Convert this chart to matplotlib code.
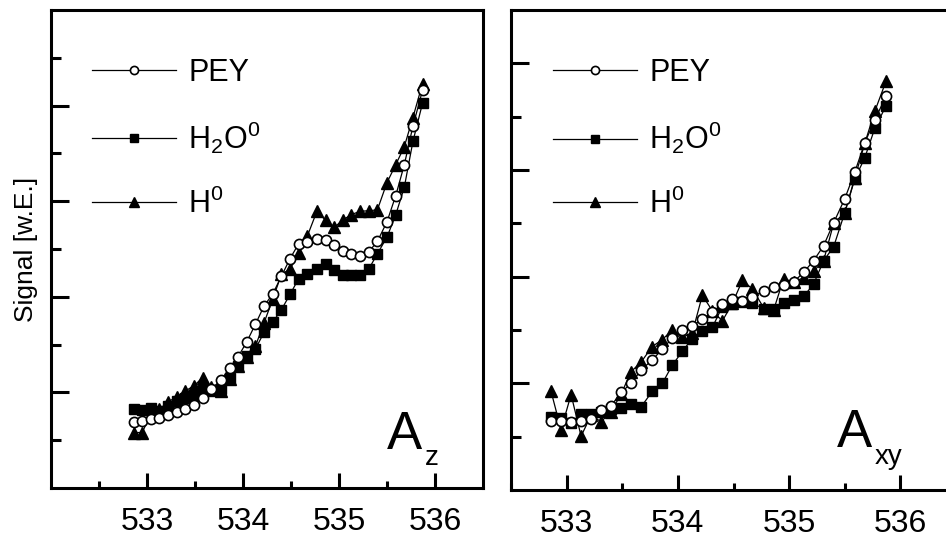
import matplotlib
matplotlib.use("Agg")
import matplotlib.pyplot as plt
from matplotlib.ticker import FixedLocator

plt.rcParams["font.family"] = ["Liberation Sans", "DejaVu Sans"]
plt.rcParams["mathtext.fontset"] = "custom"
plt.rcParams["mathtext.rm"] = "Liberation Sans"
plt.rcParams["mathtext.default"] = "regular"

# Photon energy grid (eV), shared by both panels
energy = [532.86, 532.95, 533.04, 533.13, 533.22, 533.31, 533.40, 533.49,
          533.58, 533.67, 533.77, 533.86, 533.95, 534.04, 534.13, 534.22,
          534.31, 534.40, 534.49, 534.58, 534.67, 534.77, 534.86, 534.95,
          535.04, 535.13, 535.22, 535.31, 535.40, 535.50, 535.59, 535.68,
          535.77, 535.87]

# A_z panel
pey_z = [0.39, 0.41, 0.45, 0.46, 0.53, 0.59, 0.66, 0.74, 0.88, 1.08, 1.25,
         1.52, 1.75, 2.06, 2.43, 2.81, 3.06, 3.43, 3.80, 4.11, 4.14, 4.21,
         4.18, 4.09, 3.96, 3.90, 3.85, 3.94, 4.16, 4.57, 5.11, 5.76, 6.57, 7.32]
h2o_z = [0.65, 0.63, 0.68, 0.61, 0.71, 0.82, 0.89, 0.95, 1.04, 1.02, 1.08,
         1.31, 1.56, 1.77, 1.91, 2.26, 2.47, 2.73, 3.05, 3.38, 3.48, 3.59,
         3.68, 3.57, 3.45, 3.45, 3.46, 3.58, 3.90, 4.25, 4.71, 5.29, 6.25, 7.05]
h0_z = [0.16, 0.16, 0.55, 0.65, 0.80, 0.91, 1.03, 1.14, 1.31, 1.11, 1.02,
        1.29, 1.55, 1.74, 1.97, 2.46, 2.95, 3.47, 3.58, 3.91, 4.27, 4.79,
        4.60, 4.45, 4.61, 4.72, 4.79, 4.80, 4.82, 5.39, 5.76, 6.14, 6.75, 7.46]

# A_xy panel
pey_xy = [0.29, 0.30, 0.27, 0.30, 0.34, 0.50, 0.58, 0.83, 1.00, 1.25, 1.44,
          1.64, 1.85, 2.00, 2.08, 2.20, 2.34, 2.48, 2.58, 2.54, 2.62, 2.73,
          2.80, 2.84, 2.90, 3.08, 3.30, 3.58, 4.01, 4.46, 4.96, 5.51, 5.94, 6.38]
h2o_xy = [0.36, 0.35, 0.25, 0.42, 0.42, 0.47, 0.51, 0.54, 0.61, 0.56, 0.85,
          1.00, 1.34, 1.60, 1.84, 1.98, 2.05, 2.44, 2.49, 2.53, 2.50, 2.40,
          2.40, 2.50, 2.56, 2.63, 2.86, 3.30, 3.56, 4.20, 4.83, 5.23, 5.78, 6.20]
h0_xy = [0.85, 0.13, 0.79, 0.01, 0.40, 0.28, 0.47, 0.80, 1.22, 1.40, 1.69,
         1.82, 2.00, 1.86, 1.95, 2.65, 2.36, 2.17, 2.50, 2.93, 2.77, 2.42,
         2.37, 2.96, 2.90, 2.98, 3.10, 3.30, 4.00, 4.20, 4.85, 5.50, 6.10, 6.66]

series_labels = ["PEY", r"H$_2$O$^0$", r"H$^0$"]
x_major = [533, 534, 535, 536]
x_minor = [532.5, 533.5, 534.5, 535.5]

fig = plt.figure(figsize=(9.46, 5.40), dpi=100)
ax_z = fig.add_axes([51 / 946, 52 / 540, 432 / 946, 478 / 540])
ax_xy = fig.add_axes([511 / 946, 50 / 540, 445 / 946, 480 / 540])

line_kw = dict(color="black", lw=0.9)


def draw_panel(ax, pey, h2o, h0, xlim, ylim, y_major, y_minor):
    l_h0, = ax.plot(energy, h0, marker="^", ms=8.3, mfc="black", mec="black",
                    label=series_labels[2], **line_kw)
    l_h2o, = ax.plot(energy, h2o, marker="s", ms=7, mfc="black", mec="black",
                     label=series_labels[1], **line_kw)
    l_pey, = ax.plot(energy, pey, marker="o", ms=7.3, mfc="white", mec="black",
                     mew=1.2, label=series_labels[0], **line_kw)
    ax.set_xlim(*xlim)
    ax.set_ylim(*ylim)
    ax.xaxis.set_major_locator(FixedLocator(x_major))
    ax.xaxis.set_minor_locator(FixedLocator(x_minor))
    ax.yaxis.set_major_locator(FixedLocator(y_major))
    ax.yaxis.set_minor_locator(FixedLocator(y_minor))
    ax.set_yticklabels([])
    for s in ax.spines.values():
        s.set_linewidth(2.2)
    ax.tick_params(axis="both", which="both", direction="in", width=2.2,
                   top=False, right=False)
    ax.tick_params(axis="x", which="major", length=10.5, labelsize=23, pad=14)
    ax.tick_params(axis="x", which="minor", length=5)
    ax.tick_params(axis="y", which="major", length=13)
    ax.tick_params(axis="y", which="minor", length=7)
    ax.legend(handles=[l_pey, l_h2o, l_h0], loc="upper left",
              bbox_to_anchor=(41 / 432, 0.90), frameon=False,
              fontsize=22, handlelength=2.75, handletextpad=0.4,
              labelspacing=1.05, borderpad=0, borderaxespad=0,
              markerscale=0.8)


draw_panel(ax_z, pey_z, h2o_z, h0_z, (532.0, 536.5), (-1, 9),
           [1, 3, 5, 7], [0, 2, 4, 6, 8])
draw_panel(ax_xy, pey_xy, h2o_xy, h0_xy, (532.5, 536.5), (-1, 8),
           [1, 3, 5, 7], [0, 2, 4, 6])

ax_z.set_ylabel("Signal [w.E.]", fontsize=19)
ax_z.yaxis.set_label_coords(-0.03, 0.5)

# Panel tags
ax_z.text(0.778, 0.0816, "A", transform=ax_z.transAxes, fontsize=38,
          ha="left", va="baseline")
ax_z.text(0.866, 0.048, "z", transform=ax_z.transAxes, fontsize=20,
          ha="left", va="baseline")
ax_xy.text(0.732, 0.0896, "A", transform=ax_xy.transAxes, fontsize=38,
           ha="left", va="baseline")
ax_xy.text(0.818, 0.055, "xy", transform=ax_xy.transAxes, fontsize=20,
           ha="left", va="baseline")

fig.savefig("out.png", dpi=100)
